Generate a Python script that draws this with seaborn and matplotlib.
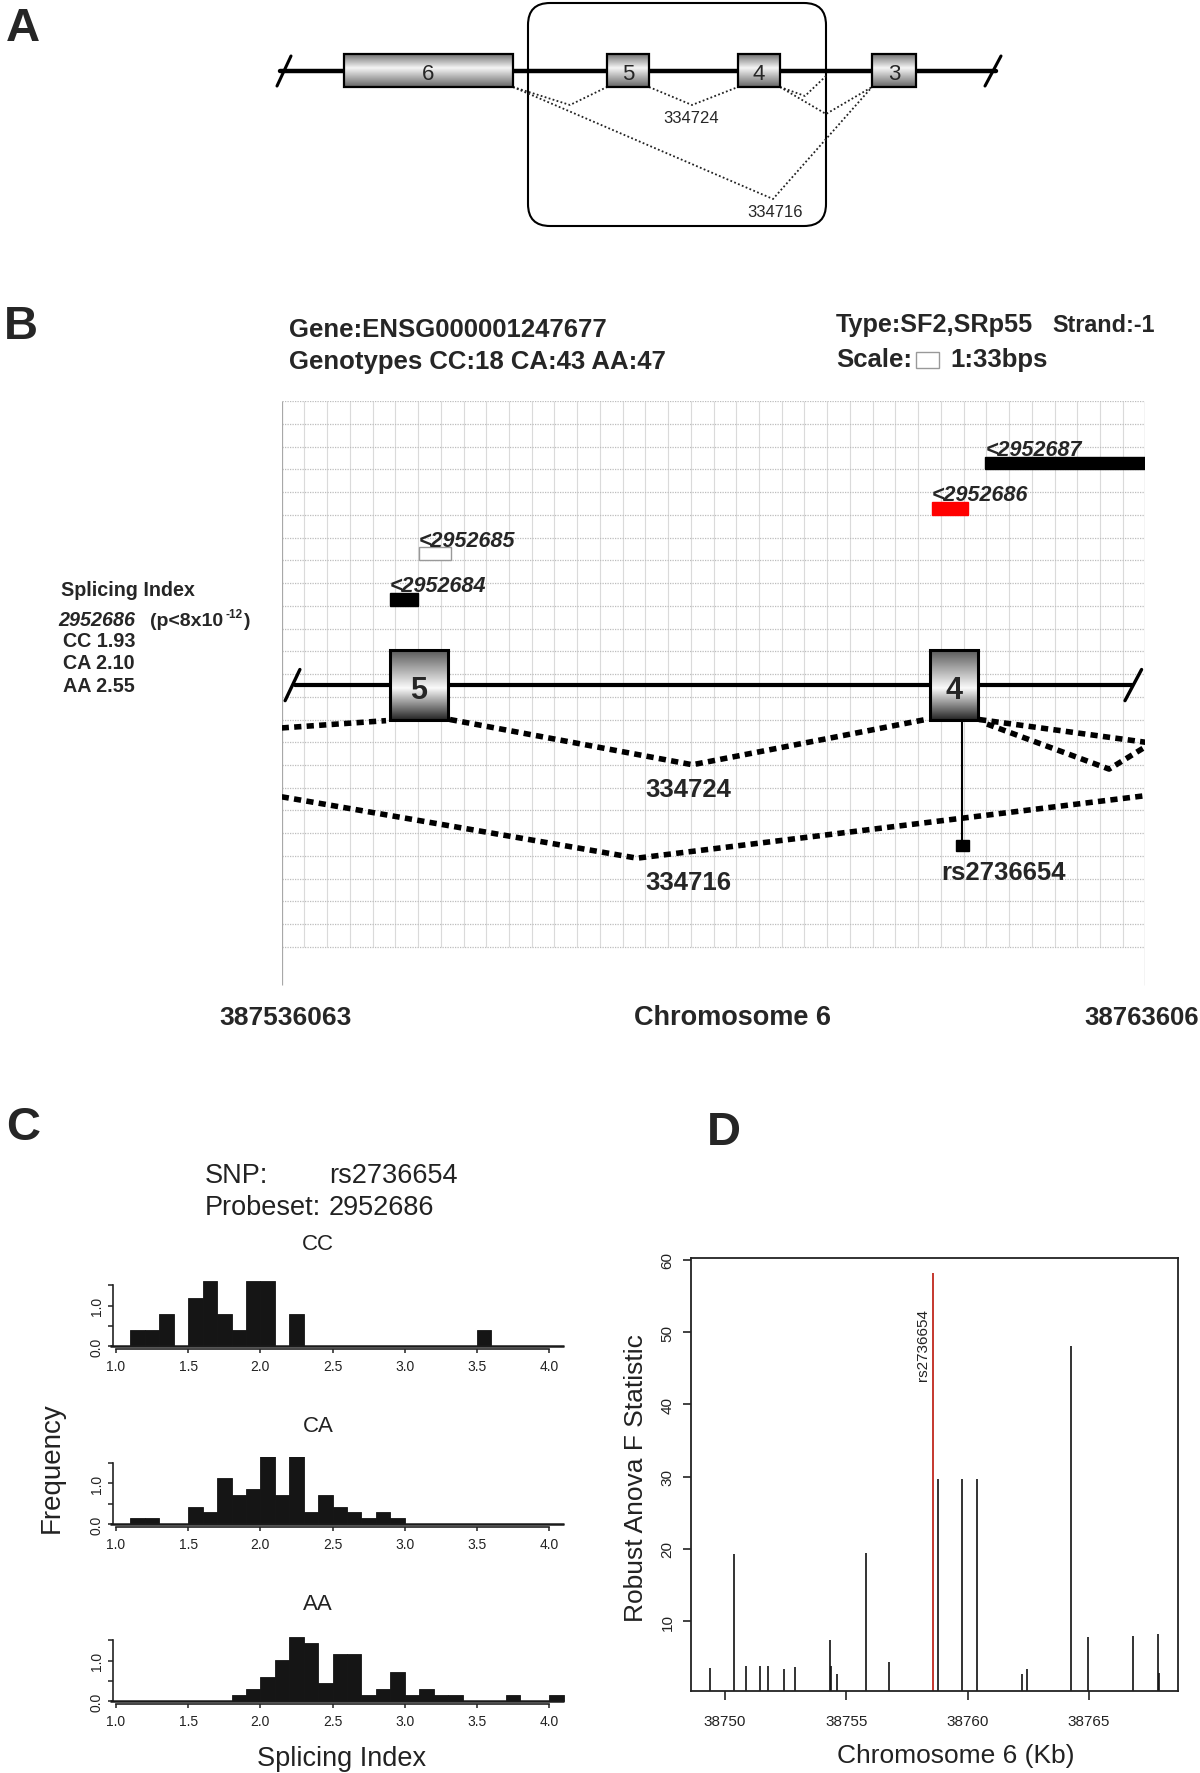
import numpy as np
import pandas as pd
import matplotlib
matplotlib.use("Agg")
import matplotlib.pyplot as plt
import seaborn as sns
from matplotlib.patches import Rectangle, FancyBboxPatch

# ==============================================================================
# DATA
# ==============================================================================
# Panel A - exon model (diagram units)
exon_a_names = ["6", "5", "4", "3"]
exon_a_start = [344, 607, 738, 872]
exon_a_end = [513, 649, 780, 916]
junction_a_x = [[513, 570, 607], [649, 692, 738], [780, 826, 872],
                [780, 805, 826], [513, 773, 872]]
junction_a_y = [[88, 106, 88], [88, 106, 88], [88, 115, 88],
                [88, 97, 77], [88, 200, 88]]
junction_a_labels = ["334724", "334716"]

# Panel B - zoomed gene model, grid cell units (1 cell = 33 bp)
exon_b_names = ["5", "4"]
exon_b_start = [4.76, 28.52]
exon_b_end = [7.31, 30.63]
probe_names = ["<2952687", "<2952686", "<2952685", "<2952684"]
probe_start = [30.96, 28.61, 6.02, 4.76]
probe_end = [38.0, 30.19, 7.47, 5.99]
probe_row = [3, 5, 7, 9]
probe_fill = ["black", "#ff0000", "white", "black"]
junction_b_x = [[0, 4.59], [7.4, 18.07, 28.43], [30.68, 38.0],
                [31.03, 36.4, 38.0], [0, 15.63, 38.0]]
junction_b_y = [[14.37, 14.05], [14.0, 15.99, 13.98], [14.0, 15.0],
                [14.2, 16.18, 15.2], [17.4, 20.1, 17.35]]
snp_x = 29.95
snp_name = "rs2736654"
chrom_start, chrom_end = "387536063", "38763606"
splice_lines = ["CC 1.93", "CA 2.10", "AA 2.55"]

# Panel C - splicing index histograms (density per 0.1 bin, bins 1.1 .. 4.1)
bin_edges = [round(v / 10, 1) for v in range(11, 42)]
hist_cc = [0.4, 0.4, 0.8, 0, 1.2, 1.6, 0.8, 0.4, 1.6, 1.6, 0, 0.8,
           0, 0, 0, 0, 0, 0, 0, 0, 0, 0, 0, 0, 0.4, 0, 0, 0, 0, 0]
hist_ca = [0.15, 0.15, 0, 0, 0.43, 0.30, 1.13, 0.71, 0.86, 1.72, 0.71, 1.86,
           0.30, 0.71, 0.43, 0.30, 0.15, 0.30, 0.15,
           0, 0, 0, 0, 0, 0, 0, 0, 0, 0, 0]
hist_aa = [0, 0, 0, 0, 0, 0, 0, 0.16, 0.30, 0.60, 1.01, 1.59, 1.44, 0.44,
           1.16, 1.16, 0.16, 0.30, 0.73, 0.16, 0.30, 0.16, 0.16,
           0, 0, 0, 0.16, 0, 0, 0.16]
genotypes = ["CC", "CA", "AA"]

# Panel D - robust ANOVA F statistic per probe position (Kb)
snp_pos_kb = [38749.37, 38750.36, 38750.88, 38751.43, 38751.75, 38752.44,
              38752.89, 38754.32, 38754.37, 38754.61, 38755.82, 38756.78,
              38758.78, 38759.79, 38760.41, 38762.24, 38762.44, 38764.29,
              38764.98, 38766.83, 38767.87, 38767.90]
f_stat = [3.5, 19.3, 3.8, 3.8, 3.8, 3.4, 3.6, 7.4, 3.8, 2.7, 19.5, 4.3,
          29.7, 29.7, 29.7, 2.7, 3.4, 48.0, 7.8, 8.0, 8.2, 2.9]
top_snp_kb = 38758.59
top_snp_f = 58.1

# ==============================================================================
# FIGURE
# ==============================================================================
sns.set_style("white")
plt.rcParams['font.family'] = ['Liberation Sans', 'DejaVu Sans']

FW, FH = 1200, 1774
fig = plt.figure(figsize=(FW / 100, FH / 100), dpi=100)


def fx(x):
    return x / FW


def fy(y):
    return 1 - y / FH


def gradient_box(ax, x0, x1, y0, y1, stops, lw):
    t = np.linspace(0, 1, 80)
    vals = np.interp(t, stops[0], stops[1])
    img = np.tile(vals[:, None], (1, 2))
    ax.imshow(img, extent=(x0, x1, y1, y0), origin='upper', cmap='gray',
              vmin=0, vmax=1, aspect='auto', interpolation='bilinear', zorder=4)
    ax.add_patch(Rectangle((x0, y0), x1 - x0, y1 - y0, fill=False,
                           ec='black', lw=lw, zorder=5))


# panel letters
for letter, x, y in [("A", 6, 41), ("B", 4, 339), ("C", 6, 1140), ("D", 707, 1145)]:
    fig.text(fx(x), fy(y), letter, fontsize=34, fontweight='bold', va='baseline')

# ------------------------------------------------------------------ panel A
ax_a = fig.add_axes([0, fy(240), 1, 240 / FH])
ax_a.set_axis_off()
ax_a.plot([280, 996], [71.5, 71.5], color='black', lw=3.2, zorder=2)
for xs in ([277, 291], [985, 1001]):
    ax_a.plot(xs, [87, 57], color='black', lw=2.2, zorder=2)
for name, s, e in zip(exon_a_names, exon_a_start, exon_a_end):
    gradient_box(ax_a, s, e, 55, 88, ([0, 0.42, 1], [0.45, 0.96, 0.4]), 1.6)
    ax_a.text((s + e) / 2, 80, name, ha='center', va='baseline', fontsize=16, zorder=6)
for xs, ys in zip(junction_a_x, junction_a_y):
    ax_a.plot(xs, ys, color='#222222', lw=1.3, ls=(0, (1, 1.3)), zorder=3)
ax_a.text(691, 123, junction_a_labels[0], ha='center', va='baseline', fontsize=12)
ax_a.text(775, 217, junction_a_labels[1], ha='center', va='baseline', fontsize=12)
ax_a.add_patch(FancyBboxPatch((528, 4), 298, 223, boxstyle="round,pad=0,rounding_size=22",
                              fill=False, ec='black', lw=1.5, zorder=1))
ax_a.set_xlim(0, 1200)
ax_a.set_ylim(240, 0)

# ------------------------------------------------------------------ panel B
bold = dict(fontweight='bold', va='baseline')
fig.text(fx(289), fy(337), "Gene:ENSG000001247677", fontsize=18.5, **bold)
fig.text(fx(289), fy(369), "Genotypes CC:18 CA:43 AA:47", fontsize=18.5, **bold)
fig.text(fx(836), fy(332), "Type:SF2,SRp55", fontsize=18.2, **bold)
fig.text(fx(1052), fy(332), "Strand:-1", fontsize=16.8, **bold)
fig.text(fx(836), fy(367), "Scale:", fontsize=18.5, **bold)
fig.text(fx(950), fy(367), "1:33bps", fontsize=18.5, **bold)

fig.text(fx(61), fy(596), "Splicing Index", fontsize=14.2, **bold)
fig.text(fx(58), fy(626), "2952686", fontsize=14.2, fontstyle='italic', **bold)
fig.text(fx(150), fy(626), "(p<8x10", fontsize=14.0, **bold)
fig.text(fx(225), fy(618), "-12", fontsize=8.5, **bold)
fig.text(fx(244), fy(626), ")", fontsize=14.0, **bold)
for i, s in enumerate(splice_lines):
    fig.text(fx(63), fy(647 + i * 22.5), s, fontsize=14.2, **bold)

cell = 22.73
ax_b = fig.add_axes([fx(281.7), fy(402.3 + 28 * cell), 38 * cell / FW, 28 * cell / FH])
ax_b.set_axis_off()
ax_b.vlines(np.arange(1, 38), 0, 24, color='#dadada', lw=0.8, zorder=0)
ax_b.hlines(np.arange(0, 25), 0, 38, color='#bdbdbd', lw=0.9, ls=(0, (1, 1)), zorder=0)
ax_b.vlines([0, 38], 0, 25.68, color='#a8a8a8', lw=0.9, zorder=0)

# scale box
ax_b.add_patch(Rectangle((27.9, -2.15), 1.0, 0.68, fill=True, fc='white',
                         ec='#999999', lw=1.0, clip_on=False))

ax_b.plot([0.57, 37.4], [12.47, 12.47], color='black', lw=3.0, zorder=2)
for xs in ([0.15, 0.8], [37.1, 37.83]):
    ax_b.plot(xs, [13.17, 11.8], color='black', lw=2.4, zorder=2)

for name, s, e in zip(exon_b_names, exon_b_start, exon_b_end):
    gradient_box(ax_b, s, e, 10.94, 14.02, ([0, 0.55, 1], [0.34, 0.98, 0.15]), 2.2)
    ax_b.text((s + e) / 2, 13.05, name, ha='center', va='baseline',
              fontsize=22, fontweight='bold', zorder=6)

for name, s, e, r, c in zip(probe_names, probe_start, probe_end, probe_row, probe_fill):
    ec = '#999999' if c == 'white' else c
    ax_b.add_patch(Rectangle((s, r - 0.57), e - s, 0.57, fc=c, ec=ec, lw=1.0, zorder=3))
    ax_b.text(s, r - 0.64, name, fontsize=15.5, fontweight='bold', fontstyle='italic',
              va='baseline', ha='left', zorder=3)

for xs, ys in zip(junction_b_x, junction_b_y):
    ax_b.plot(xs, ys, color='black', lw=4.0, ls=(0, (1.3, 0.95)),
              solid_capstyle='butt', dash_capstyle='butt', zorder=3)
ax_b.text(17.9, 17.35, junction_a_labels[0], ha='center', va='baseline',
          fontsize=18.5, fontweight='bold')
ax_b.text(17.9, 21.46, junction_a_labels[1], ha='center', va='baseline',
          fontsize=18.5, fontweight='bold')

ax_b.plot([snp_x, snp_x], [14.02, 19.39], color='black', lw=1.5, zorder=3)
ax_b.add_patch(Rectangle((snp_x - 0.27, 19.3), 0.54, 0.47, fc='black', ec='black', zorder=3))
ax_b.text(31.76, 21.02, snp_name, ha='center', va='baseline', fontsize=18.5, fontweight='bold')

ax_b.text(0.19, 27.4, chrom_start, ha='center', va='baseline', fontsize=19, fontweight='bold')
ax_b.text(19.84, 27.4, "Chromosome 6", ha='center', va='baseline', fontsize=19.5, fontweight='bold')
ax_b.text(40.33, 27.4, chrom_end, ha='right', va='baseline', fontsize=18.5, fontweight='bold')
ax_b.set_xlim(0, 38)
ax_b.set_ylim(28, 0)

# ------------------------------------------------------------------ panel C
fig.text(fx(205), fy(1183), "SNP:", fontsize=19.5, va='baseline', color='#222222')
fig.text(fx(329), fy(1183), snp_name, fontsize=19.5, va='baseline', color='#222222')
fig.text(fx(205), fy(1215), "Probeset:", fontsize=19.5, va='baseline', color='#222222')
fig.text(fx(329), fy(1215), "2952686", fontsize=19.5, va='baseline', color='#222222')

centers = [round(b + 0.05, 2) for b in bin_edges[:-1]]
px_unit = 40.6
title_y = [1250, 1431.7, 1610]
zero_y = [1347.3, 1525.0, 1702.3]
for g, vals, ty, zy in zip(genotypes, [hist_cc, hist_ca, hist_aa], title_y, zero_y):
    x_lo, x_hi = 0.979, 4.22
    y_lo, y_hi = -0.065, 1.65
    left = 116 - (1.0 - x_lo) * 144.4
    right = 116 + (x_hi - 1.0) * 144.4
    bottom = zy - y_lo * px_unit
    top = zy - y_hi * px_unit
    ax = fig.add_axes([fx(left), fy(bottom), (right - left) / FW, (bottom - top) / FH])
    df = pd.DataFrame({"si": centers, "dens": vals})
    sns.histplot(data=df, x="si", weights="dens", binwidth=0.1, binrange=(1.1, 4.1),
                 stat='count', color='#151515', edgecolor='#151515', linewidth=0.6,
                 alpha=1, ax=ax)
    ax.hlines(0, 0.955, 4.1, color='#1a1a1a', lw=1.8, clip_on=False, zorder=3)
    ax.set_xlim(x_lo, x_hi)
    ax.set_ylim(y_lo, y_hi)
    ax.set_xlabel("")
    ax.set_ylabel("")
    sns.despine(ax=ax, top=True, right=True)
    ax.spines['bottom'].set_bounds(1.0, 4.0)
    ax.spines['left'].set_bounds(0, 1.5)
    for sp in ('bottom', 'left'):
        ax.spines[sp].set_linewidth(1.2)
        ax.spines[sp].set_color('#222222')
    ax.set_xticks([1.0, 1.5, 2.0, 2.5, 3.0, 3.5, 4.0])
    ax.set_xticklabels(["1.0", "1.5", "2.0", "2.5", "3.0", "3.5", "4.0"])
    ax.set_yticks([0, 0.5, 1.0, 1.5])
    ax.set_yticklabels(["0.0", "", "1.0", ""], rotation=90, va='center')
    ax.tick_params(axis='x', direction='out', length=3.2, width=1.1, pad=4,
                   labelsize=10, colors='#222222', bottom=True)
    ax.tick_params(axis='y', direction='out', length=3.3, width=1.1, pad=3.5,
                   labelsize=10, colors='#222222', left=True)
    ax.set_facecolor('none')
    fig.text(fx(318), fy(ty), g, fontsize=16, ha='center', va='baseline', color='#222222')

fig.text(fx(52), fy(1468), "Frequency", fontsize=20, rotation=90, ha='center',
         va='center', color='#222222')
fig.text(fx(342), fy(1766), "Splicing Index", fontsize=19.5, ha='center',
         va='baseline', color='#222222')

# ------------------------------------------------------------------ panel D
ax_d = fig.add_axes([fx(690.7), fy(1692.3), (1177.9 - 690.7) / FW, (1692.3 - 1259.3) / FH])
ax_d.vlines(snp_pos_kb, 0, f_stat, color='#111111', lw=1.2)
ax_d.vlines([top_snp_kb], 0, [top_snp_f], color='#c0281e', lw=1.3)
ax_d.text(top_snp_kb - 0.42, 53.3, snp_name, rotation=90, ha='center', va='top',
          fontsize=11, color='#222222')
ax_d.set_xlim(38748.58, 38768.68)
ax_d.set_ylim(0.3, 60.2)
ax_d.set_xticks([38750, 38755, 38760, 38765])
ax_d.set_xticklabels(["38750", "38755", "38760", "38765"])
ax_d.set_yticks([10, 20, 30, 40, 50, 60])
ax_d.set_yticklabels(["10", "20", "30", "40", "50", "60"], rotation=90, va='center')
ax_d.tick_params(axis='x', direction='out', length=6.5, width=1.2, pad=10,
                 labelsize=11, colors='#222222', bottom=True)
ax_d.tick_params(axis='y', direction='out', length=6.0, width=1.2, pad=5.5,
                 labelsize=11, colors='#222222', left=True)
for sp in ax_d.spines.values():
    sp.set_visible(True)
    sp.set_linewidth(1.3)
    sp.set_color('#222222')
ax_d.set_xlabel("")
ax_d.set_ylabel("")
fig.text(fx(636), fy(1478), "Robust Anova F Statistic", fontsize=19, rotation=90,
         ha='center', va='center', color='#222222')
fig.text(fx(956), fy(1763), "Chromosome 6 (Kb)", fontsize=19, ha='center',
         va='baseline', color='#222222')

fig.savefig("out.png", dpi=100, facecolor='white')
